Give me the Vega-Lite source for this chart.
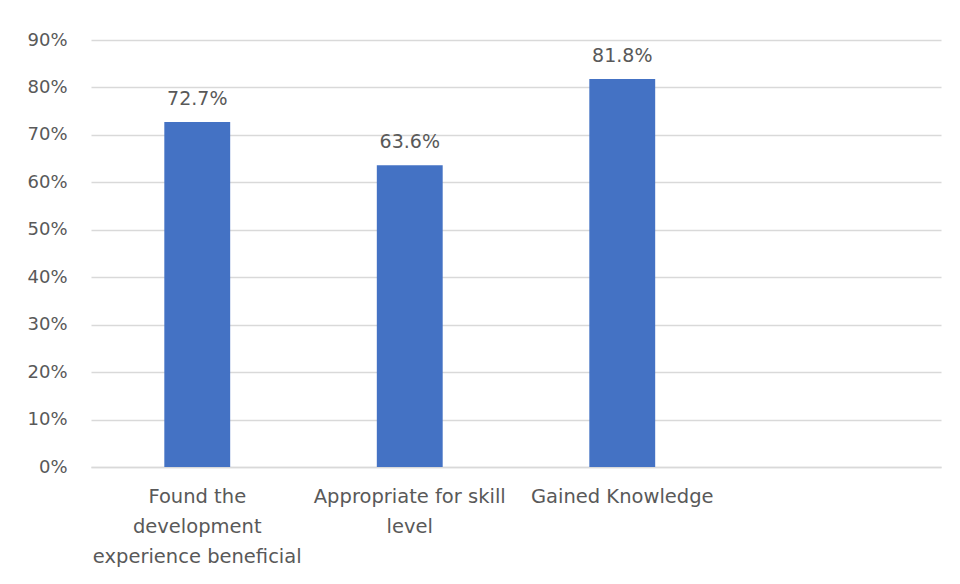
{
  "$schema": "https://vega.github.io/schema/vega-lite/v6.json",
  "width": 850,
  "height": 427,
  "autosize": {"type": "none"},
  "padding": {"left": 91, "top": 40, "right": 19, "bottom": 117},
  "background": "white",
  "config": {
    "view": {"stroke": null},
    "font": "DejaVu Sans",
    "axis": {"labelFont": "DejaVu Sans", "labelColor": "#595959", "labelFontSize": 18}
  },
  "data": {
    "values": [
      {"category": "Found the development experience beneficial", "value": 0.727},
      {"category": "Appropriate for skill level", "value": 0.636},
      {"category": "Gained Knowledge", "value": 0.818}
    ]
  },
  "encoding": {
    "x": {
      "field": "category",
      "type": "nominal",
      "sort": null,
      "scale": {
        "domain": ["Found the development experience beneficial", "Appropriate for skill level", "Gained Knowledge", " "],
        "paddingInner": 0.69,
        "paddingOuter": 0.345
      },
      "axis": {
        "title": null,
        "labelAngle": 0,
        "ticks": false,
        "domain": true,
        "domainColor": "#D9D9D9",
        "domainWidth": 1.5,
        "labelPadding": 20,
        "labelFontSize": 19.5,
        "labelLimit": 400,
        "labelLineHeight": 30,
        "labelBaseline": "top",
        "labelExpr": "datum.value == 'Found the development experience beneficial' ? ['Found the', 'development', 'experience beneficial'] : datum.value == 'Appropriate for skill level' ? ['Appropriate for skill', 'level'] : datum.value"
      }
    },
    "y": {
      "field": "value",
      "type": "quantitative",
      "scale": {"domain": [0, 0.9], "nice": false},
      "axis": {
        "title": null,
        "format": ".0%",
        "values": [0, 0.1, 0.2, 0.3, 0.4, 0.5, 0.6, 0.7, 0.8, 0.9],
        "domain": false,
        "ticks": false,
        "labelPadding": 24,
        "grid": true,
        "gridColor": "#D9D9D9",
        "gridWidth": 1.5
      }
    }
  },
  "layer": [
    {"mark": {"type": "bar", "color": "#4472C4"}},
    {
      "mark": {"type": "text", "baseline": "bottom", "dy": -13, "fontSize": 19, "color": "#595959", "font": "DejaVu Sans"},
      "encoding": {"text": {"field": "value", "type": "quantitative", "format": ".1%"}}
    }
  ]
}
